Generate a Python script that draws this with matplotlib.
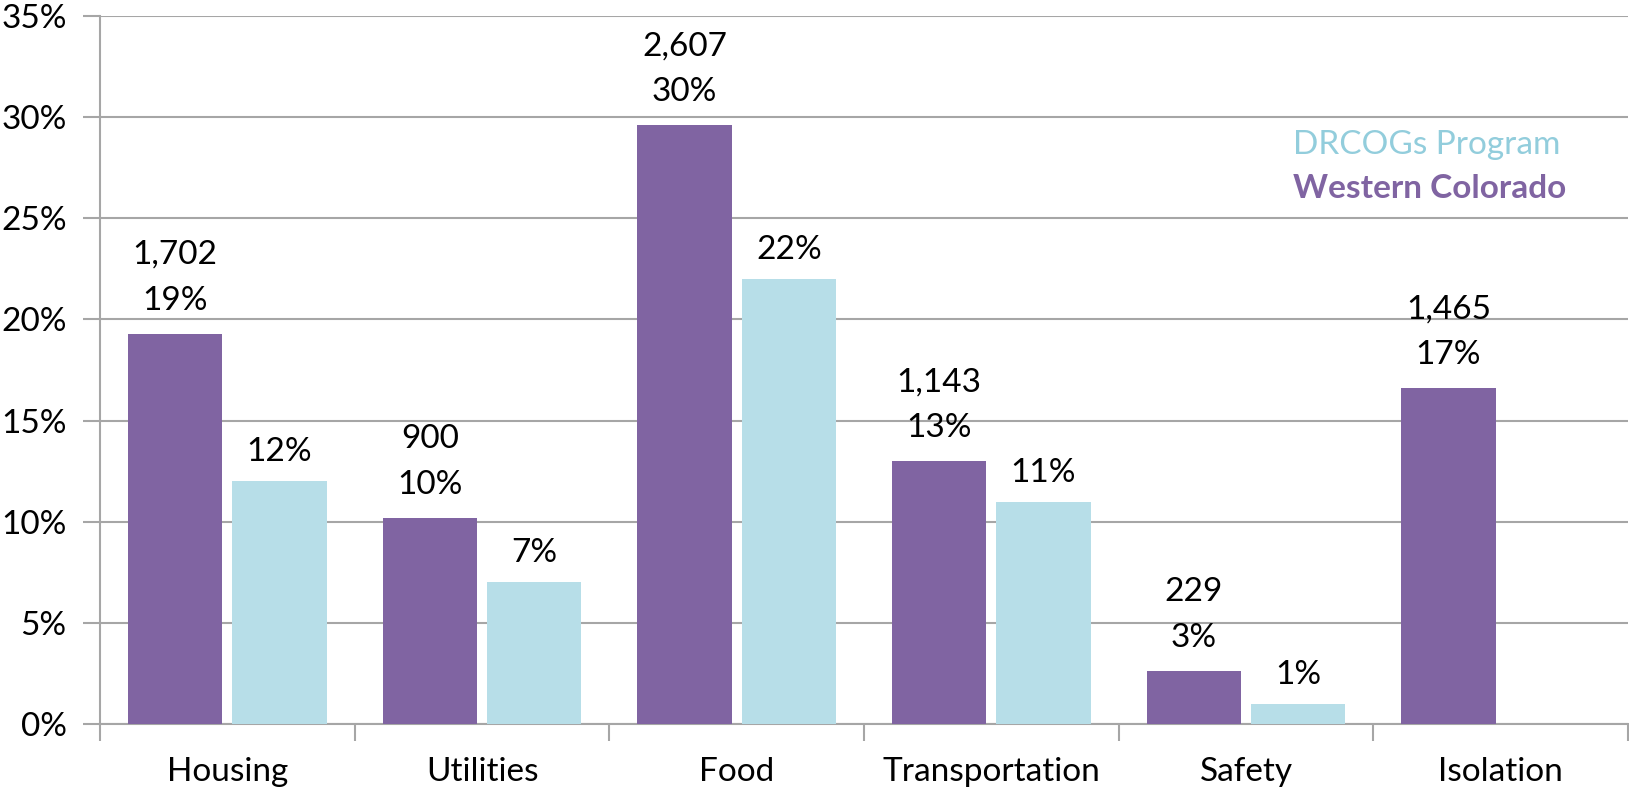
import numpy as np
import matplotlib
matplotlib.use("Agg")
import matplotlib.pyplot as plt
from matplotlib.ticker import MultipleLocator, FuncFormatter

plt.rcParams["font.family"] = ["Lato", "DejaVu Sans"]

categories = ["Housing", "Utilities", "Food", "Transportation", "Safety", "Isolation"]
western_pct = [19.3, 10.2, 29.6, 13.0, 2.6, 16.6]
western_counts = ["1,702", "900", "2,607", "1,143", "229", "1,465"]
western_labels = ["19%", "10%", "30%", "13%", "3%", "17%"]
drcog_pct = [12.0, 7.0, 22.0, 11.0, 1.0, None]
drcog_labels = ["12%", "7%", "22%", "11%", "1%", None]

PURPLE = "#8064A2"
CYAN = "#B7DEE8"
CYAN_TXT = "#92CDDC"
GRID = "#A6A6A6"
FS = 24

fig = plt.figure(figsize=(16.29, 7.90), dpi=100)
ax = fig.add_axes([0.0614, 0.0835, 0.9380, 0.8962])

x = np.arange(len(categories))
w, off = 0.37, 0.205
ax.bar(x - off, western_pct, w, color=PURPLE, zorder=3)
dx = [xi + off for xi, v in zip(x, drcog_pct) if v is not None]
dv = [v for v in drcog_pct if v is not None]
ax.bar(dx, dv, w, color=CYAN, zorder=3)

# purple bars: count + share on two lines, cyan bars: share only
for xi, v, c, p in zip(x, western_pct, western_counts, western_labels):
    ax.annotate(c, (xi - off, v), xytext=(0, 79), textcoords="offset pixels",
                ha="center", va="center", fontsize=FS, zorder=4)
    ax.annotate(p, (xi - off, v), xytext=(0, 33), textcoords="offset pixels",
                ha="center", va="center", fontsize=FS, zorder=4)
for xi, v, p in zip(x, drcog_pct, drcog_labels):
    if v is None:
        continue
    ax.annotate(p, (xi + off, v), xytext=(0, 29), textcoords="offset pixels",
                ha="center", va="center", fontsize=FS, zorder=4)

ax.set_xlim(-0.5, len(categories) - 0.5)
ax.set_ylim(0, 35)
ax.yaxis.set_major_locator(MultipleLocator(5))
ax.yaxis.set_major_formatter(FuncFormatter(lambda v, _: f"{v:.0f}%"))
ax.grid(axis="y", color=GRID, lw=1.5, zorder=0)

# boundary ticks between categories, labels centred on minor ticks
ax.set_xticks(np.arange(len(categories) + 1) - 0.5)
ax.set_xticklabels([])
ax.set_xticks(x, minor=True)
ax.set_xticklabels(categories, minor=True, fontsize=FS)
ax.tick_params(axis="x", which="major", length=12, width=1.5, color=GRID, direction="out")
ax.tick_params(axis="x", which="minor", length=0, pad=24)
ax.tick_params(axis="y", length=12, width=1.5, color=GRID, labelsize=FS, pad=12)

for s in ["top", "right"]:
    ax.spines[s].set_visible(False)
for s in ["left", "bottom"]:
    ax.spines[s].set_color(GRID)
    ax.spines[s].set_linewidth(1.5)

fig.text(1293 / 1629, 1 - 145 / 790, "DRCOGs Program", color=CYAN_TXT,
         fontsize=FS, ha="left", va="center")
fig.text(1293 / 1629, 1 - 188 / 790, "Western Colorado", color=PURPLE,
         fontsize=FS, fontweight="bold", ha="left", va="center")

fig.savefig("out.png", dpi=100)
